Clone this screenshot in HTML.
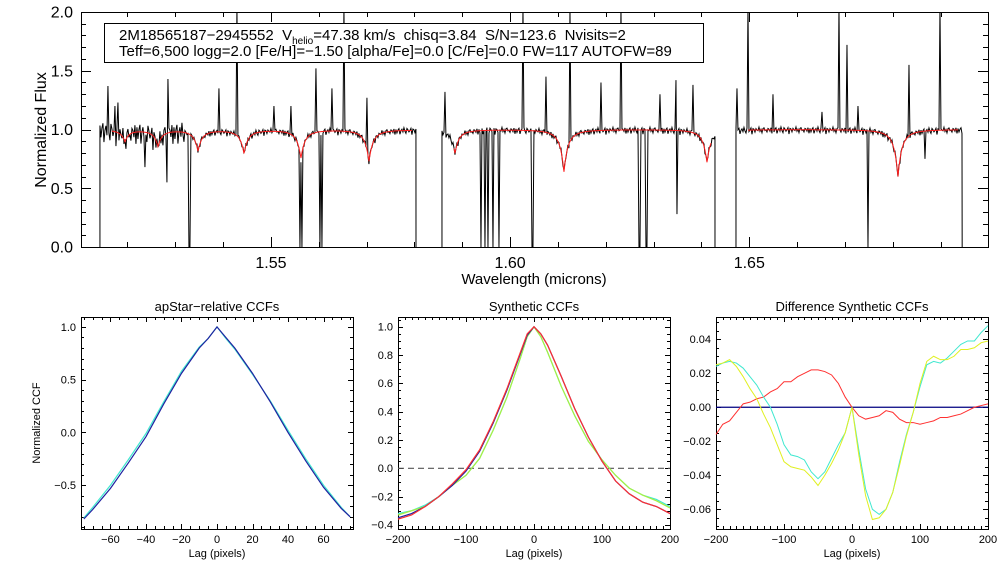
<!DOCTYPE html>
<html><head><meta charset="utf-8"><style>
html,body{margin:0;padding:0;background:#fff;}
svg{display:block;font-family:"Liberation Sans",sans-serif;}
text{white-space:pre;}
</style></head><body>
<svg id="chart" width="1008" height="576" viewBox="0 0 1008 576" xmlns="http://www.w3.org/2000/svg">
<rect x="0" y="0" width="1008" height="576" fill="#fff"/>
<g id="top"></g><g id="p1"></g><g id="p2"></g><g id="p3"></g>
<rect x="104.5" y="23.5" width="599" height="39" fill="#fff" stroke="#000" stroke-width="1"/>
<text x="119" y="40" font-size="15" xml:space="preserve">2M18565187−2945552  V<tspan font-size="10" dy="4">helio</tspan><tspan dy="-4">=47.38 km/s  chisq=3.84  S/N=123.6  Nvisits=2</tspan></text>
<text x="119" y="56" font-size="15">Teff=6,500 logg=2.0 [Fe/H]=−1.50 [alpha/Fe]=0.0 [C/Fe]=0.0 FW=117 AUTOFW=89</text>
<text transform="translate(46,130) rotate(-90)" text-anchor="middle" font-size="16">Normalized Flux</text>
<text x="534" y="284" text-anchor="middle" font-size="15">Wavelength (microns)</text>
<text x="217" y="311" text-anchor="middle" font-size="13">apStar−relative CCFs</text>
<text x="534" y="311" text-anchor="middle" font-size="13">Synthetic CCFs</text>
<text x="852" y="311" text-anchor="middle" font-size="13">Difference Synthetic CCFs</text>
<text transform="translate(40,423) rotate(-90)" text-anchor="middle" font-size="11">Normalized CCF</text>
<text x="217" y="557" text-anchor="middle" font-size="11">Lag (pixels)</text>
<text x="534" y="557" text-anchor="middle" font-size="11">Lag (pixels)</text>
<text x="852" y="557" text-anchor="middle" font-size="11">Lag (pixels)</text>
</svg>
<script>
// ---- top spectrum data ----
const segStarts = [1.51424, 1.58575, 1.64722];
const segEnds = [1.58032, 1.64283, 1.69451];
const lineCenters = [1.51947, 1.52637, 1.53474, 1.54436, 1.55627, 1.57049, 1.58847, 1.61126, 1.64116, 1.68109];
const lineDepths = [0.10, 0.14, 0.18, 0.20, 0.24, 0.27, 0.20, 0.36, 0.28, 0.40];
const spikeWaves = [1.51592,1.51738,1.51801,1.52366,1.52826,1.52847,1.5237,1.53913,1.54289,1.55063,1.55418,1.55941,1.56275,1.56526,1.57007,
  1.58638,1.60269,1.60750,1.61251,1.61899,1.62318,1.63133,1.63468,1.63489,1.63823,
  1.64743,1.64973,1.65496,1.66520,1.66875,1.67043,1.67273,1.68339,1.68673,1.68987,
  1.53286,1.53307,1.55606,1.55648,1.56024,1.56066,1.59391,1.59474,1.59537,1.59641,1.59767,1.60457,1.60478,1.62694,1.62715,1.62840,1.62861,1.67482];
const spikeFlux = [1.37,1.20,1.23,2.05,0.55,1.43,0.68,1.35,2.05,1.20,1.20,1.52,1.35,2.05,1.27,
  1.32,2.05,1.45,2.05,1.40,2.05,1.30,1.42,0.28,1.38,
  1.35,2.05,1.30,1.15,2.05,1.72,1.20,1.55,0.75,2.05,
  0,0,0,0,0,0,0,0,0,0,0,0,0,0,0,0,0,0];
const noise = [0.02,-0.03,0.01,0.03,-0.05,0.00,0.02,-0.02,0.04,-0.01,-0.04,0.03,0.01,-0.02,0.00,0.03,-0.06,0.02,0.01,-0.03,0.02,0.00,-0.01,0.04,-0.02,0.01,-0.04,0.02,0.03,-0.01,0.00,-0.03,0.02,0.01,-0.02,0.03,-0.05];
const topYTicks = [0.0, 0.5, 1.0, 1.5, 2.0];
const topYLabels = ["0.0","0.5","1.0","1.5","2.0"];
const topXTicks = [1.55, 1.60, 1.65];
const topXLabels = ["1.55","1.60","1.65"];

// ---- panel 1 data ----
const p1Lags = [-75,-70,-60,-50,-40,-30,-20,-10,-5,0,5,10,20,30,40,50,60,70,75];
const p1Blue = [-0.82,-0.73,-0.53,-0.29,-0.04,0.27,0.56,0.80,0.89,1.0,0.90,0.80,0.56,0.29,0.00,-0.27,-0.52,-0.72,-0.80];
const p1Cyan = [-0.81,-0.71,-0.50,-0.26,-0.01,0.29,0.58,0.81,0.89,1.0,0.89,0.79,0.55,0.30,0.02,-0.25,-0.50,-0.71,-0.80];
const p1XTicks = [-60,-40,-20,0,20,40,60];
const p1YTicks = [-0.5,0.0,0.5,1.0];
const p1YLabels = ["-0.5","0.0","0.5","1.0"];

// ---- panel 2 data ----
const p2Lags = [-200,-180,-160,-140,-120,-100,-80,-60,-40,-20,-10,0,10,20,40,60,80,100,120,140,160,180,200];
const p2Blue = [-0.35,-0.32,-0.27,-0.20,-0.12,-0.02,0.12,0.32,0.55,0.81,0.94,1.0,0.95,0.87,0.65,0.42,0.22,0.05,-0.09,-0.18,-0.24,-0.27,-0.32];
const p2Red = [-0.36,-0.33,-0.27,-0.20,-0.11,-0.01,0.13,0.33,0.56,0.82,0.95,1.0,0.95,0.87,0.65,0.42,0.22,0.05,-0.09,-0.18,-0.24,-0.27,-0.32];
const p2Cyan = [-0.32,-0.30,-0.26,-0.20,-0.12,-0.05,0.07,0.27,0.50,0.78,0.93,1.0,0.93,0.82,0.58,0.37,0.19,0.06,-0.05,-0.14,-0.19,-0.22,-0.27];
const p2Green = [-0.33,-0.30,-0.27,-0.20,-0.12,-0.05,0.07,0.27,0.50,0.78,0.93,1.0,0.93,0.82,0.58,0.37,0.19,0.06,-0.05,-0.14,-0.19,-0.23,-0.28];
const p2XTicks = [-200,-100,0,100,200];
const p2YTicks = [-0.4,-0.2,0.0,0.2,0.4,0.6,0.8,1.0];
const p2YLabels = ["-0.4","-0.2","0.0","0.2","0.4","0.6","0.8","1.0"];

// ---- panel 3 data ----
const p3Lags = [-200,-190,-180,-170,-160,-150,-140,-130,-120,-110,-100,-90,-80,-70,-60,-50,-40,-30,-20,-10,0,10,20,30,40,50,60,70,80,90,100,110,120,130,140,150,160,170,180,190,200];
const p3Red = [-0.016,-0.010,-0.008,-0.003,0.002,0.003,0.005,0.006,0.009,0.011,0.015,0.015,0.018,0.020,0.022,0.022,0.021,0.019,0.014,0.006,0.0,-0.005,-0.007,-0.006,-0.005,-0.002,-0.003,-0.007,-0.009,-0.009,-0.010,-0.009,-0.008,-0.006,-0.006,-0.005,-0.004,-0.002,0.000,0.001,0.002];
const p3Cyan = [0.024,0.026,0.027,0.026,0.023,0.018,0.013,0.006,0.000,-0.010,-0.022,-0.028,-0.029,-0.031,-0.038,-0.042,-0.038,-0.030,-0.022,-0.015,0.0,-0.025,-0.048,-0.060,-0.063,-0.060,-0.050,-0.032,-0.016,-0.003,0.012,0.025,0.027,0.026,0.029,0.033,0.037,0.039,0.039,0.044,0.048];
const p3Yellow = [0.025,0.026,0.028,0.024,0.018,0.011,0.005,-0.004,-0.012,-0.022,-0.032,-0.035,-0.036,-0.037,-0.041,-0.046,-0.040,-0.033,-0.025,-0.015,0.0,-0.028,-0.052,-0.066,-0.065,-0.060,-0.050,-0.034,-0.017,-0.003,0.014,0.027,0.030,0.028,0.028,0.030,0.034,0.034,0.035,0.038,0.039];
const p3Zero = [0.0, 0.0];
const p3ZeroLags = [-200, 200];
const p3XTicks = [-200,-100,0,100,200];
const p3YTicks = [-0.06,-0.04,-0.02,0.00,0.02,0.04];
const p3YLabels = ["-0.06","-0.04","-0.02","0.00","0.02","0.04"];

const NS = "http://www.w3.org/2000/svg";
function mk(parent, tag, attrs){const e=document.createElementNS(NS,tag);for(const k in attrs)e.setAttribute(k,attrs[k]);parent.appendChild(e);return e;}
function fmtMinus(s){return String(s).replace('-','−');}

function makeAxes(g, P, o){
  const sx = v => P.x0 + (v-P.xmin)/(P.xmax-P.xmin)*(P.x1-P.x0);
  const sy = v => P.y1 - (v-P.ymin)/(P.ymax-P.ymin)*(P.y1-P.y0);
  const ticks = mk(g,'path',{fill:'none',stroke:'#000','stroke-width':1});
  
  
  let d='';
  for(let v=Math.ceil(P.xmin/o.xMinor)*o.xMinor; v<=P.xmax+1e-9; v+=o.xMinor){
    const X=Math.round(sx(v))+0.5; d+=`M${X},${P.y1}v${-o.minLen}M${X},${P.y0}v${o.minLen}`;}
  for(const v of o.xTicks){const X=Math.round(sx(v))+0.5; d+=`M${X},${P.y1}v${-o.majLen}M${X},${P.y0}v${o.majLen}`;}
  for(let v=Math.ceil(P.ymin/o.yMinor)*o.yMinor; v<=P.ymax+1e-9; v+=o.yMinor){
    const Y=Math.round(sy(v))+0.5; d+=`M${P.x0},${Y}h${o.minLen}M${P.x1},${Y}h${-o.minLen}`;}
  for(const v of o.yTicks){const Y=Math.round(sy(v))+0.5; d+=`M${P.x0},${Y}h${o.majLen}M${P.x1},${Y}h${-o.majLen}`;}
  ticks.setAttribute('d',d);
  o.xTicks.forEach((v,i)=>{
    const t=mk(g,'text',{x:sx(v),y:P.y1+o.xLabDy,'text-anchor':'middle','font-size':o.fs});
    
    
    t.textContent=fmtMinus(o.xLabels?o.xLabels[i]:v);});
  o.yTicks.forEach((v,i)=>{
    const t=mk(g,'text',{x:P.x0-o.yLabDx,y:sy(v)+o.fs*0.35,'text-anchor':'end','font-size':o.fs});
    
    
    t.textContent=fmtMinus(o.yLabels[i]);});
  const fr=mk(g,'rect',{x:P.x0+0.5,y:P.y0+0.5,width:P.x1-P.x0,height:P.y1-P.y0,fill:'none',stroke:'#000','stroke-width':1});
  
  
  return {sx,sy};
}
function drawLine(g,sx,sy,xs,ys,color,name,w,dash){
  const pts=xs.map((x,i)=>sx(x).toFixed(2)+','+sy(ys[i]).toFixed(2)).join(' ');
  const a={points:pts,fill:'none',stroke:color,'stroke-width':w||1};
  if(dash)a['stroke-dasharray']=dash;
  const p=mk(g,'polyline',a);
  
  
}

// ---- top plot ----
(function(){
  const g=document.getElementById('top');
  const P={x0:81,x1:988,y0:12,y1:247,xmin:1.51028,xmax:1.69991,ymin:0,ymax:2};
  const clipR=mk(g,'clipPath',{id:'topclip'}); mk(clipR,'rect',{x:81,y:12,width:907,height:235});
  const {sx,sy}=makeAxes(g,P,{name:'top',xTicks:topXTicks,xLabels:topXLabels,yTicks:topYTicks,yLabels:topYLabels,xMinor:0.01,yMinor:0.1,majLen:10,minLen:5,fs:16,xLabDy:21,yLabDx:8});
  const px=(P.xmax-P.xmin)/(P.x1-P.x0);
  function model(w){let f=1;for(let i=0;i<lineCenters.length;i++){const u=Math.abs(w-lineCenters[i])/0.0009;f-=lineDepths[i]/(1+u+u*u*0.6);}return f;}
  const cg=mk(g,'g',{'clip-path':'url(#topclip)'});
  for(let s=0;s<segStarts.length;s++){
    const xs=[segStarts[s]],ys=[0],mx=[],my=[];
    let k=0;
    for(let w=segStarts[s];w<=segEnds[s];w+=px,k++){
      let f=model(w)-0.02*lineDepths.length*0;
      const amp=(w<1.532)?2.0:0.6;
      f+=noise[k%noise.length]*amp;
      for(let j=0;j<spikeWaves.length;j++){if(Math.abs(w-spikeWaves[j])<px/2)f=spikeFlux[j];}
      xs.push(w);ys.push(f);
      if(w>segStarts[s]+0.0025&&w<segEnds[s]-0.0008){mx.push(w);my.push(model(w));}
    }
    xs.push(segEnds[s]);ys.push(0);
    drawLine(cg,sx,sy,xs,ys,'#000','spectrum-segment-'+(s+1),1);
    drawLine(cg,sx,sy,mx,my,'#ff2020','model-segment-'+(s+1),1);
  }
})();

// ---- panel 1 ----
(function(){
  const g=document.getElementById('p1');
  const P={x0:81,x1:353,y0:317,y1:529,xmin:-76.6,xmax:76.6,ymin:-0.915,ymax:1.094};
  const {sx,sy}=makeAxes(g,P,{name:'p1',xTicks:p1XTicks,yTicks:p1YTicks,yLabels:p1YLabels,xMinor:5,yMinor:0.1,majLen:5,minLen:3,fs:11,xLabDy:14,yLabDx:5});
  drawLine(g,sx,sy,p1Lags,p1Cyan,'#40e8d0','p1-cyan-ccf',1.2);
  drawLine(g,sx,sy,p1Lags,p1Blue,'#2020a0','p1-blue-ccf',1.2);
})();

// ---- panel 2 ----
(function(){
  const g=document.getElementById('p2');
  const P={x0:398,x1:670,y0:317,y1:529,xmin:-200,xmax:200,ymin:-0.429,ymax:1.069};
  const {sx,sy}=makeAxes(g,P,{name:'p2',xTicks:p2XTicks,yTicks:p2YTicks,yLabels:p2YLabels,xMinor:10,yMinor:0.05,majLen:5,minLen:3,fs:11,xLabDy:14,yLabDx:5});
  drawLine(g,sx,sy,[-200,200],[0,0],'#555','p2-zero-dashed-line',1.2,'6,4');
  drawLine(g,sx,sy,p2Lags,p2Cyan,'#40e8d0','p2-cyan-ccf',1.2);
  drawLine(g,sx,sy,p2Lags,p2Green,'#a8f040','p2-green-ccf',1.2);
  drawLine(g,sx,sy,p2Lags,p2Blue,'#2020a0','p2-blue-ccf',1.2);
  drawLine(g,sx,sy,p2Lags,p2Red,'#ff3030','p2-red-ccf',1.2);
})();

// ---- panel 3 ----
(function(){
  const g=document.getElementById('p3');
  const P={x0:716,x1:988,y0:317,y1:529,xmin:-200,xmax:200,ymin:-0.0716,ymax:0.0531};
  const {sx,sy}=makeAxes(g,P,{name:'p3',xTicks:p3XTicks,yTicks:p3YTicks,yLabels:p3YLabels,xMinor:10,yMinor:0.005,majLen:5,minLen:3,fs:11,xLabDy:14,yLabDx:5});
  drawLine(g,sx,sy,p3ZeroLags,p3Zero,'#000080','p3-zero-line',1.2);
  drawLine(g,sx,sy,p3Lags,p3Red,'#ff3030','p3-red-diff',1);
  drawLine(g,sx,sy,p3Lags,p3Cyan,'#40e8d0','p3-cyan-diff',1);
  drawLine(g,sx,sy,p3Lags,p3Yellow,'#e0f020','p3-yellow-diff',1);
})();
</script>
</body></html>
